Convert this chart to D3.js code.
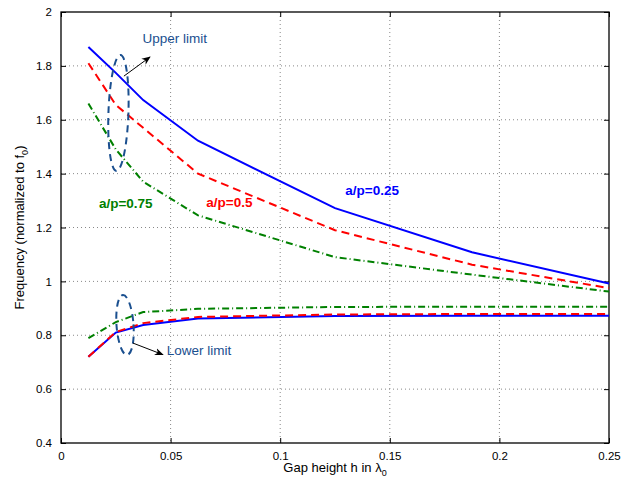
<!DOCTYPE html>
<html lang="en">
<head>
<meta charset="utf-8">
<title>Frequency vs gap height</title>
<script src="https://d3js.org/d3.v7.min.js"></script>
<style>
  body { margin: 0; background: #fff; }
  svg text { font-family: "Liberation Sans", Arial, sans-serif; }
</style>
</head>
<body>
<div id="chart"></div>
<script>
// gap heights (in lambda0) where the curves were computed
var gap = [0.0125, 0.025, 0.0375, 0.0625, 0.125, 0.1875, 0.25];

// upper limits of the band
var upper025 = [1.87, 1.774, 1.673, 1.522, 1.272, 1.108, 0.992];
var upper05  = [1.81, 1.655, 1.57, 1.40, 1.19, 1.062, 0.975];
var upper075 = [1.66, 1.49, 1.37, 1.245, 1.09, 1.025, 0.962];

// lower limits of the band
var lower025 = [0.72, 0.81, 0.838, 0.862, 0.871, 0.872, 0.872];
var lower05  = [0.72, 0.812, 0.845, 0.868, 0.877, 0.879, 0.879];
var lower075 = [0.789, 0.849, 0.886, 0.898, 0.905, 0.906, 0.906];

var xTicks = [0, 0.05, 0.1, 0.15, 0.2, 0.25];
var yTicks = [0.4, 0.6, 0.8, 1, 1.2, 1.4, 1.6, 1.8, 2];

var width = 629, height = 483;
var margin = {top: 12, right: 20, bottom: 40, left: 61};
var w = width - margin.left - margin.right;   // 548
var h = height - margin.top - margin.bottom;  // 431

var svg = d3.select('#chart').append('svg')
    .attr('width', width)
    .attr('height', height);

var g = svg.append('g')
    .attr('transform', 'translate(' + margin.left + ',' + margin.top + ')');

var x = d3.scaleLinear().domain([0, 0.25]).range([0, w]);
var y = d3.scaleLinear().domain([0.4, 2]).range([h, 0]);

// dotted grid
g.append('g').selectAll('line')
    .data(xTicks.slice(1, -1))
    .enter().append('line')
    .attr('x1', function(d) { return x(d); })
    .attr('x2', function(d) { return x(d); })
    .attr('y1', 0).attr('y2', h)
    .attr('stroke', '#888').attr('stroke-width', 1)
    .attr('stroke-dasharray', '1,3');
g.append('g').selectAll('line')
    .data(yTicks.slice(1, -1))
    .enter().append('line')
    .attr('y1', function(d) { return y(d); })
    .attr('y2', function(d) { return y(d); })
    .attr('x1', 0).attr('x2', w)
    .attr('stroke', '#888').attr('stroke-width', 1)
    .attr('stroke-dasharray', '1,3');

// axes, ticks pointing inwards like matlab
function styleAxis(sel) {
  sel.select('.domain').remove();
  sel.selectAll('text').attr('font-size', 11.5).attr('fill', '#000')
     .style('font-family', '"Liberation Sans", Arial, sans-serif');
  sel.selectAll('line').attr('stroke', '#000');
}
g.append('g')
    .attr('transform', 'translate(0,' + h + ')')
    .call(d3.axisBottom(x).tickValues(xTicks).tickSizeInner(-5).tickPadding(9)
      .tickFormat(function(d) { return d3.format('~g')(d); }))
    .call(styleAxis);
g.append('g')
    .call(d3.axisTop(x).tickValues(xTicks).tickSizeInner(-5).tickFormat(''))
    .call(styleAxis);
g.append('g')
    .call(d3.axisLeft(y).tickValues(yTicks).tickSizeInner(-5).tickPadding(9)
      .tickFormat(function(d) { return d3.format('~g')(d); }))
    .call(styleAxis);
g.append('g')
    .attr('transform', 'translate(' + w + ',0)')
    .call(d3.axisRight(y).tickValues(yTicks).tickSizeInner(-5).tickFormat(''))
    .call(styleAxis);

g.append('rect')
    .attr('width', w).attr('height', h)
    .attr('fill', 'none').attr('stroke', '#000').attr('stroke-width', 1.3);

// curves
var line = d3.line()
    .x(function(d) { return x(d[0]); })
    .y(function(d) { return y(d[1]); });

var series = [
  {vals: lower075, color: '#008000', dash: '7,3,1,3'},
  {vals: upper075, color: '#008000', dash: '7,3,1,3'},
  {vals: lower025, color: '#0000ff', dash: null},
  {vals: upper025, color: '#0000ff', dash: null},
  {vals: lower05,  color: '#ff0000', dash: '8,5'},
  {vals: upper05,  color: '#ff0000', dash: '8,5'}
];

g.selectAll('path.curve')
    .data(series)
    .enter().append('path')
    .attr('class', 'curve')
    .attr('d', function(s) { return line(gap.map(function(v, i) { return [v, s.vals[i]]; })); })
    .attr('fill', 'none')
    .attr('stroke', function(s) { return s.color; })
    .attr('stroke-width', 2)
    .attr('stroke-dasharray', function(s) { return s.dash; });

// series labels
var labels = [
  {text: 'a/p=0.25', color: '#0000ff', gx: 0.1297, gy: 1.32},
  {text: 'a/p=0.5',  color: '#ff0000', gx: 0.0663, gy: 1.277},
  {text: 'a/p=0.75', color: '#008000', gx: 0.0173, gy: 1.272}
];
g.selectAll('text.lab')
    .data(labels)
    .enter().append('text')
    .attr('class', 'lab')
    .attr('x', function(d) { return x(d.gx); })
    .attr('y', function(d) { return y(d.gy); })
    .attr('fill', function(d) { return d.color; })
    .attr('font-size', 13.5)
    .attr('font-weight', 'bold')
    .text(function(d) { return d.text; });

// annotations: ellipses, arrows and texts
var annColor = '#1a4f8f';
var defs = svg.append('defs');
defs.append('marker')
    .attr('id', 'arrow')
    .attr('viewBox', '0 0 10 10')
    .attr('refX', 9).attr('refY', 5)
    .attr('markerWidth', 9).attr('markerHeight', 9)
    .attr('markerUnits', 'userSpaceOnUse')
    .attr('orient', 'auto')
    .append('path')
    .attr('d', 'M0,1 L10,5 L0,9 L3,5 Z')
    .attr('fill', '#000');

var ellipses = [
  {cx: 0.0262, cy: 1.625, rx: 10, ry: 58, rot: 2},
  {cx: 0.0292, cy: 0.838, rx: 8.5, ry: 30, rot: -4}
];
g.selectAll('ellipse')
    .data(ellipses)
    .enter().append('ellipse')
    .attr('transform', function(d) {
      return 'translate(' + x(d.cx) + ',' + y(d.cy) + ') rotate(' + d.rot + ')';
    })
    .attr('rx', function(d) { return d.rx; })
    .attr('ry', function(d) { return d.ry; })
    .attr('fill', 'none')
    .attr('stroke', annColor)
    .attr('stroke-width', 2)
    .attr('stroke-dasharray', '7,5');

var arrows = [
  {x1: 0.0287, y1: 1.762, x2: 0.0406, y2: 1.833},
  {x1: 0.0328, y1: 0.771, x2: 0.0465, y2: 0.728}
];
g.selectAll('line.arrow')
    .data(arrows)
    .enter().append('line')
    .attr('class', 'arrow')
    .attr('x1', function(d) { return x(d.x1); })
    .attr('y1', function(d) { return y(d.y1); })
    .attr('x2', function(d) { return x(d.x2); })
    .attr('y2', function(d) { return y(d.y2); })
    .attr('stroke', '#000')
    .attr('stroke-width', 1)
    .attr('marker-end', 'url(#arrow)');

var notes = [
  {text: 'Upper limit', gx: 0.0372, gy: 1.886},
  {text: 'Lower limit', gx: 0.0482, gy: 0.728}
];
g.selectAll('text.note')
    .data(notes)
    .enter().append('text')
    .attr('class', 'note')
    .attr('x', function(d) { return x(d.gx); })
    .attr('y', function(d) { return y(d.gy); })
    .attr('fill', annColor)
    .attr('font-size', 13.5)
    .text(function(d) { return d.text; });

// axis titles
var xt = svg.append('text')
    .attr('x', margin.left + w / 2)
    .attr('y', 472)
    .attr('text-anchor', 'middle')
    .attr('font-size', 13)
    .attr('fill', '#000');
xt.append('tspan').text('Gap height h in \u03bb');
xt.append('tspan').attr('font-size', 9).attr('dy', 4).text('0');

var yt = svg.append('text')
    .attr('transform', 'translate(24,' + (margin.top + h / 2) + ') rotate(-90)')
    .attr('text-anchor', 'middle')
    .attr('font-size', 13)
    .attr('fill', '#000');
yt.append('tspan').text('Frequency (normalized to f');
yt.append('tspan').attr('font-size', 9).attr('dy', 4).text('0');
yt.append('tspan').attr('dy', -4).text(')');
</script>
</body>
</html>
